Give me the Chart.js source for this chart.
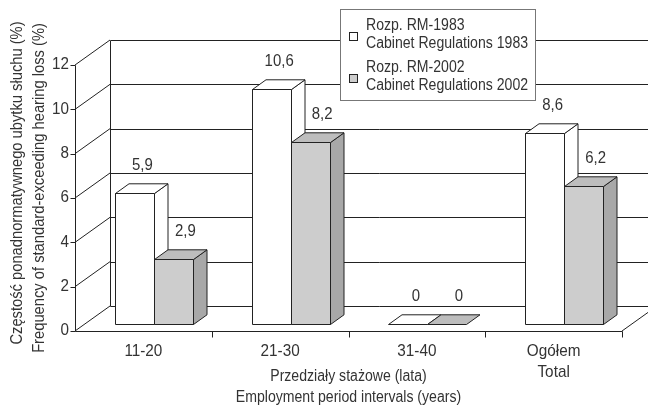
<!DOCTYPE html>
<html>
<head>
<meta charset="utf-8">
<script src="https://cdn.jsdelivr.net/npm/chart.js@4/dist/chart.umd.min.js"></script>
<style>
  html, body { margin: 0; padding: 0; background: #ffffff; }
  canvas { display: block; }
</style>
</head>
<body>
<canvas id="c" width="648" height="406"></canvas>
<script>
// Categories (employment period intervals)
const categories = [['11-20'], ['21-30'], ['31-40'], ['Ogółem', 'Total']];
// Series: share of workers with hearing loss above the norm (%)
const seriesNames = [
  ['Rozp. RM-1983', 'Cabinet Regulations 1983'],
  ['Rozp. RM-2002', 'Cabinet Regulations 2002']
];
const values1983 = [5.9, 10.6, 0, 8.6];
const values2002 = [2.9, 8.2, 0, 6.2];
const yTicks = [0, 2, 4, 6, 8, 10, 12];
const yTitle = ['Częstość ponadnormatywnego ubytku słuchu (%)', 'Frequency of standard-exceeding hearing loss (%)'];
const xTitle = ['Przedziały stażowe (lata)', 'Employment period intervals (years)'];

// condensed look: a regular sans squeezed horizontally
const FAMILY = '"Liberation Sans", Arial, sans-serif';
const INK = '#333333';
const LINE = '#222222';

// 3D geometry: full depth of the box, and where the bars sit inside it
const DEPTH = { dx: 35, dy: 25 };
const BAR_SHIFT = { dx: 10.5, dy: 7.5 };
const BAR_DEPTH = { dx: 13.5, dy: 9.7 };

const faceColors = [
  { front: '#ffffff', top: '#ffffff', side: '#ffffff' },
  { front: '#cdcdcd', top: '#bdbdbd', side: '#a8a8a8' }
];

const c = v => Math.round(v) + 0.5;

function line(ctx, x1, y1, x2, y2) {
  ctx.beginPath();
  ctx.moveTo(x1, y1);
  ctx.lineTo(x2, y2);
  ctx.stroke();
}

function poly(ctx, pts, fill) {
  ctx.beginPath();
  ctx.moveTo(pts[0][0], pts[0][1]);
  for (let i = 1; i < pts.length; i++) ctx.lineTo(pts[i][0], pts[i][1]);
  ctx.closePath();
  ctx.fillStyle = fill;
  ctx.fill();
  ctx.stroke();
}

function text(ctx, str, x, y, align, opts) {
  const o = Object.assign({ size: 16, squeeze: 0.88, angle: 0 }, opts || {});
  ctx.save();
  ctx.translate(x, y);
  if (o.angle) ctx.rotate(o.angle);
  ctx.scale(o.squeeze, 1);
  ctx.font = o.size + 'px ' + FAMILY;
  ctx.textAlign = align;
  ctx.textBaseline = 'middle';
  ctx.fillStyle = INK;
  ctx.fillText(str, 0, 0);
  ctx.restore();
}

function drawBox(ctx, el, colors) {
  const x0 = c(el.x - el.width / 2 + BAR_SHIFT.dx);
  const x1 = c(el.x + el.width / 2 + BAR_SHIFT.dx);
  const yTop = c(el.y - BAR_SHIFT.dy);
  const yBase = c(el.base - BAR_SHIFT.dy);
  const dx = BAR_DEPTH.dx, dy = BAR_DEPTH.dy;
  ctx.strokeStyle = LINE;
  ctx.lineWidth = 1;
  if (yBase - yTop > 0.5) {
    poly(ctx, [[x0, yTop], [x1, yTop], [x1, yBase], [x0, yBase]], colors.front);
    poly(ctx, [[x1, yTop], [x1 + dx, yTop - dy], [x1 + dx, yBase - dy], [x1, yBase]], colors.side);
  }
  poly(ctx, [[x0, yTop], [x0 + dx, yTop - dy], [x1 + dx, yTop - dy], [x1, yTop]], colors.top);
}

const box3d = {
  id: 'box3d',
  beforeDatasetsDraw(chart) {
    const ctx = chart.ctx;
    const xs = chart.scales.x, ys = chart.scales.y;
    const left = xs.left, right = xs.right;
    const y0 = ys.getPixelForValue(0), yMax = ys.getPixelForValue(12);
    ctx.save();
    ctx.lineWidth = 1;
    ctx.strokeStyle = LINE;

    // back wall grid + left wall
    yTicks.forEach(v => {
      const y = ys.getPixelForValue(v);
      line(ctx, c(left + DEPTH.dx), c(y - DEPTH.dy), right + DEPTH.dx, c(y - DEPTH.dy));
      line(ctx, left, y, left + DEPTH.dx, y - DEPTH.dy);
    });
    line(ctx, c(left + DEPTH.dx), c(yMax - DEPTH.dy), c(left + DEPTH.dx), c(y0 - DEPTH.dy));

    // front value axis with tick marks
    line(ctx, c(left), c(yMax), c(left), c(y0));
    yTicks.forEach(v => {
      const y = c(ys.getPixelForValue(v));
      line(ctx, c(left) - 5, y, c(left), y);
    });

    // floor front edge and right edge
    line(ctx, c(left), c(y0), c(right), c(y0));
    line(ctx, right, y0, right + DEPTH.dx, y0 - DEPTH.dy);
    for (let i = 1; i <= categories.length; i++) {
      const xb = c(left + (right - left) * i / categories.length);
      line(ctx, xb, c(y0), xb, c(y0) + 6);
    }

    // bars, back to front
    const metas = [chart.getDatasetMeta(0), chart.getDatasetMeta(1)];
    for (let i = 0; i < categories.length; i++) {
      metas.forEach((m, d) => drawBox(ctx, m.data[i], faceColors[d]));
    }
    ctx.restore();
    return false;
  },
  afterDraw(chart) {
    const ctx = chart.ctx;
    const xs = chart.scales.x, ys = chart.scales.y;
    const y0 = ys.getPixelForValue(0);

    // value tick labels
    yTicks.forEach(v => text(ctx, String(v), xs.left - 6, ys.getPixelForValue(v), 'right', { squeeze: 0.95 }));

    // category labels
    categories.forEach((lab, i) => {
      const x = xs.getPixelForValue(i);
      lab.forEach((t, k) => text(ctx, t, x, y0 + 20 + k * 21, 'center', { size: 17, squeeze: 0.9 }));
    });

    // axis titles
    const xMid = (xs.left + xs.right) / 2;
    text(ctx, xTitle[0], xMid, 377, 'center');
    text(ctx, xTitle[1], xMid, 398, 'center');
    text(ctx, yTitle[0], 18, 183, 'center', { angle: -Math.PI / 2, squeeze: 0.92 });
    text(ctx, yTitle[1], 40, 188, 'center', { angle: -Math.PI / 2, squeeze: 0.92 });

    // value labels above bars
    const labelOffset = [8, 12];
    [values1983, values2002].forEach((vals, d) => {
      const meta = chart.getDatasetMeta(d);
      vals.forEach((v, i) => {
        const el = meta.data[i];
        text(ctx, String(v).replace('.', ','), el.x + BAR_SHIFT.dx + labelOffset[d],
          el.y - BAR_SHIFT.dy - 27.5, 'center', { size: 17, squeeze: 0.88 });
      });
    });

    // legend
    ctx.save();
    ctx.fillStyle = '#ffffff';
    ctx.fillRect(340, 9, 196, 92);
    ctx.strokeStyle = '#777777';
    ctx.lineWidth = 1;
    ctx.strokeRect(340.5, 9.5, 195, 91);
    const rows = [26, 68];
    seriesNames.forEach((names, d) => {
      ctx.fillStyle = faceColors[d].front;
      ctx.strokeStyle = LINE;
      ctx.fillRect(349.5, rows[d] + 6.5, 8, 8);
      ctx.strokeRect(349.5, rows[d] + 6.5, 8, 8);
      text(ctx, names[0], 366, rows[d], 'left');
      text(ctx, names[1], 366, rows[d] + 18, 'left');
    });
    ctx.restore();
  }
};

new Chart(document.getElementById('c'), {
  type: 'bar',
  data: {
    labels: categories,
    datasets: [
      { label: seriesNames[0].join(' '), data: values1983, categoryPercentage: 0.57, barPercentage: 1 },
      { label: seriesNames[1].join(' '), data: values2002, categoryPercentage: 0.57, barPercentage: 1 }
    ]
  },
  options: {
    responsive: false,
    animation: false,
    devicePixelRatio: 1,
    layout: { padding: { left: 75, right: 26, top: 65, bottom: 75 } },
    scales: {
      x: { display: false, offset: true },
      y: { display: false, min: 0, max: 12 }
    },
    plugins: { legend: { display: false }, tooltip: { enabled: false } }
  },
  plugins: [box3d]
});
</script>
</body>
</html>
